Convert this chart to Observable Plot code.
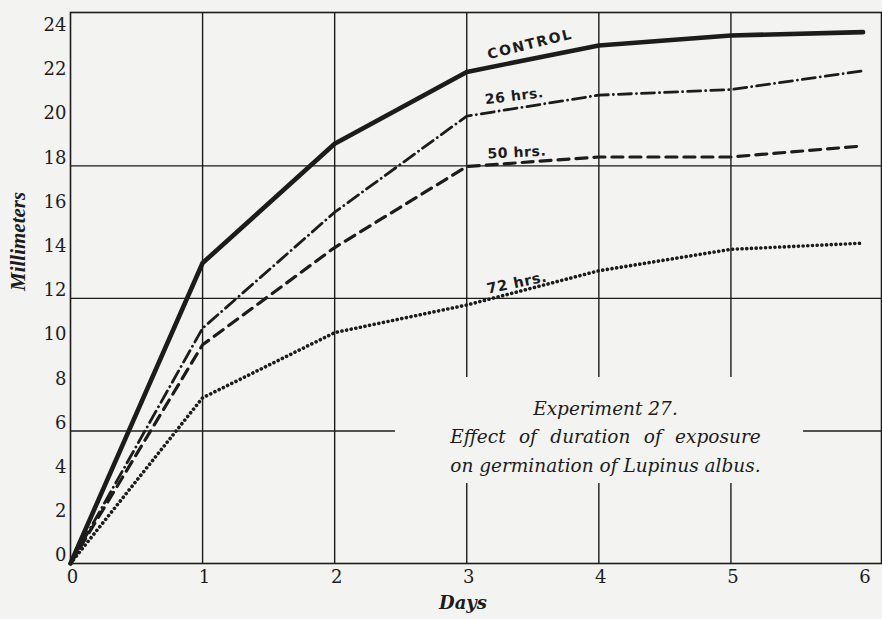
<!DOCTYPE html>
<html>
<head>
<meta charset="utf-8">
<script src="https://cdn.jsdelivr.net/npm/d3@7"></script>
<script src="https://cdn.jsdelivr.net/npm/@observablehq/plot@0.6"></script>
<style>
  html, body { margin: 0; padding: 0; background: #f3f3f1; }
  #chart svg { display: block; background: #f3f3f1; }
</style>
</head>
<body>
<div id="chart"></div>
<script>
// Experiment 27 — growth of Lupinus albus seedlings (mm) after exposure of different duration
const days = [0, 1, 2, 3, 4, 5, 6];
const control = [0, 13.6, 19.0, 22.25, 23.45, 23.9, 24.05];
const hrs26 = [0, 10.65, 15.9, 20.25, 21.2, 21.45, 22.3];
const hrs50 = [0, 9.9, 14.3, 17.97, 18.4, 18.4, 18.9];
const hrs72 = [0, 7.5, 10.45, 11.7, 13.25, 14.22, 14.5];

const seriesNames = ["CONTROL", "26 hrs.", "50 hrs.", "72 hrs."];
const xTicks = [0, 1, 2, 3, 4, 5, 6];
const yTicks = [0, 2, 4, 6, 8, 10, 12, 14, 16, 18, 20, 22, 24];
const gridDays = [1, 2, 3, 4, 5];
const gridMm = [6, 12, 18];
const noteLines = ["Experiment 27.", "Effect of duration of exposure", "on germination of Lupinus albus."];

const toRows = (vals) => days.map((d, i) => ({day: d, mm: vals[i]}));
const ink = "#1c1c1c";
const serif = "DejaVu Serif, serif";
const lettering = "DejaVu Sans, sans-serif";

// box kept clear of grid lines around the caption (in data units)
const box = {x1: 2.46, x2: 5.55, y1: 3.62, y2: 8.42};
const xMax = 6.14, yMax = 24.94;

const chart = Plot.plot({
  width: 882,
  height: 619,
  marginLeft: 70,
  marginRight: 1,
  marginTop: 12,
  marginBottom: 56,
  x: {domain: [0, xMax], axis: null},
  y: {domain: [0, yMax], axis: null},
  style: {background: "#f3f3f1", color: ink},
  marks: [
    // vertical grid: full lines at days 1–2, broken around the caption at 3–5
    Plot.ruleX(gridDays.filter(d => d < box.x1), {x: d => d, y1: 0, y2: yMax, stroke: ink, strokeWidth: 1.4}),
    Plot.ruleX(gridDays.filter(d => d >= box.x1), {x: d => d, y1: 0, y2: box.y1, stroke: ink, strokeWidth: 1.4}),
    Plot.ruleX(gridDays.filter(d => d >= box.x1), {x: d => d, y1: box.y2, y2: yMax, stroke: ink, strokeWidth: 1.4}),
    // horizontal grid: 12 and 18 full, 6 broken
    Plot.ruleY(gridMm.filter(v => v > box.y2), {y: v => v, x1: 0, x2: xMax, stroke: ink, strokeWidth: 1.4}),
    Plot.ruleY(gridMm.filter(v => v < box.y2), {y: v => v, x1: 0, x2: box.x1, stroke: ink, strokeWidth: 1.4}),
    Plot.ruleY(gridMm.filter(v => v < box.y2), {y: v => v, x1: box.x2, x2: xMax, stroke: ink, strokeWidth: 1.6}),
    Plot.frame({stroke: ink, strokeWidth: 1.6}),

    // series
    Plot.line(toRows(hrs72), {x: "day", y: "mm", stroke: ink, strokeWidth: 3.6, strokeDasharray: "0.1 4.6", strokeLinecap: "round"}),
    Plot.line(toRows(hrs50), {x: "day", y: "mm", stroke: ink, strokeWidth: 3.2, strokeDasharray: "11 7", strokeLinecap: "round"}),
    Plot.line(toRows(hrs26), {x: "day", y: "mm", stroke: ink, strokeWidth: 2.8, strokeDasharray: "13 5 0.1 5", strokeLinecap: "round"}),
    Plot.line(toRows(control), {x: "day", y: "mm", stroke: ink, strokeWidth: 4.6, strokeLinejoin: "round", strokeLinecap: "round"}),

    // series labels, lettered along the curves
    Plot.text([seriesNames[0]], {x: 3.48, y: 23.5, rotate: -14, fontFamily: lettering, fontWeight: "bold", fontSize: 14, fill: ink}),
    Plot.text([seriesNames[1]], {x: 3.36, y: 21.15, rotate: -7, fontFamily: lettering, fontWeight: "bold", fontSize: 14, fill: ink}),
    Plot.text([seriesNames[2]], {x: 3.38, y: 18.6, rotate: -3, fontFamily: lettering, fontWeight: "bold", fontSize: 14, fill: ink}),
    Plot.text([seriesNames[3]], {x: 3.38, y: 12.7, rotate: -12, fontFamily: lettering, fontWeight: "bold", fontSize: 14.5, fill: ink}),

    // caption inside the chart
    Plot.text([noteLines.join("\n")], {x: 4.05, y: 5.85, lineHeight: 1.53, textAnchor: "middle", lineAnchor: "middle", fontFamily: serif, fontStyle: "italic", fontSize: 18.5, fill: ink}),

    // tick labels
    Plot.text(yTicks, {y: d => d, frameAnchor: "left", textAnchor: "end", dx: -4, dy: -8, fontFamily: serif, fontSize: 18, fill: ink}),
    Plot.text(xTicks, {x: d => d, frameAnchor: "bottom", dy: 19, dx: 2, fontFamily: serif, fontSize: 18, fill: ink}),

    // axis titles
    Plot.text(["Millimeters"], {frameAnchor: "left", dx: -52, dy: 3, rotate: -90, fontFamily: "Liberation Serif, serif", fontStyle: "italic", fontWeight: "bold", fontSize: 21, fill: ink}),
    Plot.text(["Days"], {frameAnchor: "bottom", dx: -13, dy: 45, fontFamily: serif, fontStyle: "italic", fontWeight: "bold", fontSize: 18, fill: ink})
  ]
});

// hand-lettered look for the series labels, justified middle caption line
d3.select(chart).selectAll("text").each(function () {
  const t = this.textContent;
  if (seriesNames.includes(t)) this.setAttribute("letter-spacing", t === "CONTROL" ? "1.8" : "0.6");
});
d3.select(chart).selectAll("tspan").each(function () {
  if (this.textContent === noteLines[1]) this.setAttribute("word-spacing", "7.5");
});

document.getElementById("chart").appendChild(chart);
</script>
</body>
</html>
